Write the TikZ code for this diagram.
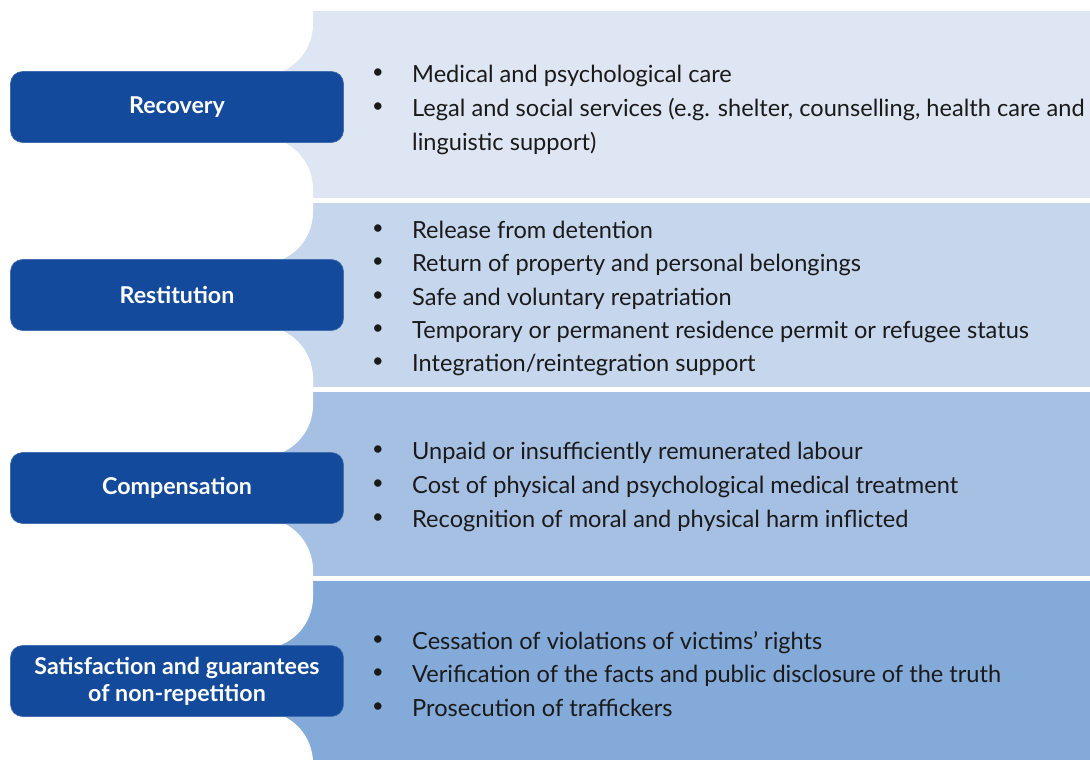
\documentclass[tikz,border=0pt]{standalone}
\usepackage{fontspec}
\setmainfont{Lato}
\definecolor{panelA}{HTML}{DFE6F3}
\definecolor{panelB}{HTML}{C6D6ED}
\definecolor{panelC}{HTML}{A6C0E4}
\definecolor{panelD}{HTML}{84AAD9}
\definecolor{boxblue}{HTML}{144A9C}
\definecolor{txt}{HTML}{1A1A1A}
\begin{document}
\begin{tikzpicture}[x=1pt,y=-1pt,
  catbox/.style={fill=boxblue, draw=boxblue!80!white, line width=0.6pt, rounded corners=12pt,
    minimum width=333pt, minimum height=71pt, inner sep=0pt, text=white,
    font=\fontsize{23.2}{27}\selectfont\bfseries, align=center},
  itemtext/.style={anchor=base west, inner sep=0pt, text=txt, font=\fontsize{23.6}{27}\selectfont},
  bul/.style={anchor=center, inner sep=0pt, text=txt, font=\fontsize{20}{25}\selectfont},
  gap/.style={fill=white, rounded corners=52pt}]
\useasboundingbox (0,0) rectangle (1090,760);
% panels
\fill[panelA] (250,11) rectangle (1090,198);
\fill[panelB] (250,203) rectangle (1090,387);
\fill[panelC] (250,392) rectangle (1090,576);
\fill[panelD] (250,581) rectangle (1090,760);
% white curved cut-outs
\fill[gap] (-60,-60) rectangle (313,76);
\fill[gap] (-60,137) rectangle (313,264);
\fill[gap] (-60,326) rectangle (313,457);
\fill[gap] (-60,518) rectangle (313,649);
\fill[gap] (-60,711) rectangle (313,830);
% category boxes
\node[catbox] (rec) at (177,107) {\raisebox{-2pt}{Recovery}};
\node[catbox] (res) at (177,295) {\raisebox{-2pt}{Restitution}};
\node[catbox] (com) at (177,488) {\raisebox{-2pt}{Compensation}};
\node[catbox] (sat) at (177,681) {Satisfaction and guarantees\\of non-repetition};
% Recovery items
\node[bul] (b11) at (378,74) {•};
\node[itemtext] (t11) at (412,82) {Medical and psychological care};
\node[bul] (b12) at (378,108) {•};
\node[itemtext] (t12) at (412,116) {Legal and social services (e.g. shelter, counselling, health care and};
\node[itemtext] (t13) at (412,150) {linguistic support)};
% Restitution items
\node[bul] (b21) at (378,230) {•};
\node[itemtext] (t21) at (412,238) {Release from detention};
\node[bul] (b22) at (378,263) {•};
\node[itemtext] (t22) at (412,271) {Return of property and personal belongings};
\node[bul] (b23) at (378,297) {•};
\node[itemtext] (t23) at (412,305) {Safe and voluntary repatriation};
\node[bul] (b24) at (378,330) {•};
\node[itemtext] (t24) at (412,338) {Temporary or permanent residence permit or refugee status};
\node[bul] (b25) at (378,363) {•};
\node[itemtext] (t25) at (412,371) {Integration/reintegration support};
% Compensation items
\node[bul] (b31) at (378,451) {•};
\node[itemtext] (t31) at (412,459) {Unpaid or insufficiently remunerated labour};
\node[bul] (b32) at (378,485) {•};
\node[itemtext] (t32) at (412,493) {Cost of physical and psychological medical treatment};
\node[bul] (b33) at (378,519) {•};
\node[itemtext] (t33) at (412,527) {Recognition of moral and physical harm inflicted};
% Satisfaction items
\node[bul] (b41) at (378,641) {•};
\node[itemtext] (t41) at (412,649) {Cessation of violations of victims’ rights};
\node[bul] (b42) at (378,674) {•};
\node[itemtext] (t42) at (412,682) {Verification of the facts and public disclosure of the truth};
\node[bul] (b43) at (378,708) {•};
\node[itemtext] (t43) at (412,716) {Prosecution of traffickers};
\end{tikzpicture}
\end{document}
